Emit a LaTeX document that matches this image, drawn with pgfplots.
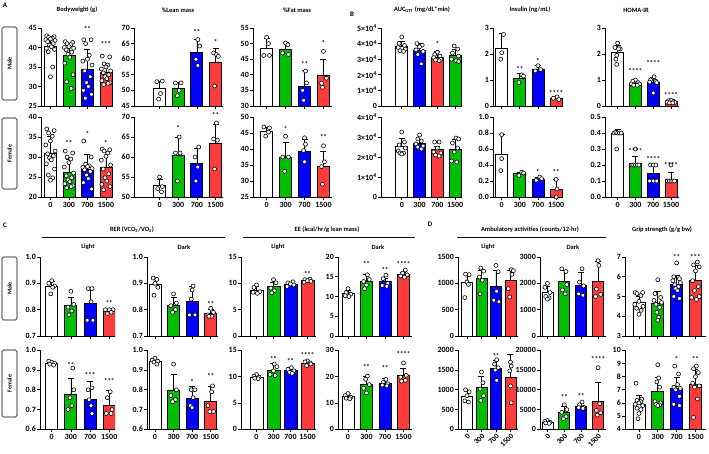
\documentclass[border=0pt]{standalone}
\usepackage{pgfplots}
\pgfplotsset{compat=1.18}
\usepackage{fontspec}
\setmainfont{Carlito}
\definecolor{cg}{RGB}{0,190,0}
\definecolor{cb}{RGB}{0,0,255}
\definecolor{cr}{RGB}{255,60,60}
\pgfplotsset{
  pr/.style={scale only axis, anchor=south west, axis lines*=left,
    axis line style={-, line width=0.8pt},
    tick style={black, line width=0.7pt}, tick align=outside, major tick length=3bp,
    xtick={0,1,2,3}, clip mode=individual, scaled ticks=false,
    ticklabel style={font=\bfseries\fontsize{8}{8}\selectfont},
    yticklabel style={inner sep=1pt}, xticklabel style={inner sep=2pt},
    bar width=12bp, /pgf/number format/assume math mode=true},
  male/.style={xticklabels={,,,}},
  female/.style={xticklabels={0,300,700,1500}},
  rot/.style={xticklabels={0,300,700,1500}, xticklabel style={rotate=45, anchor=north east, inner sep=0.5pt, font=\bfseries\fontsize{7.5}{7.5}\selectfont}},
  br/.style={ybar, draw=black, fill=#1, line width=0.8pt, error bars/.cd, y dir=plus, y explicit,
    error bar style={line width=0.7pt, black},
    error mark options={rotate=90, mark size=3bp, line width=0.7pt, black}},
  pts/.style={only marks, mark=*, mark size=2bp, mark options={fill=white, draw=black, line width=0.6pt}},
}
\newcommand{\bars}[8]{%
\addplot[br=white] coordinates {(0,#1) +- (0,#2)};
\addplot[br=cg] coordinates {(1,#3) +- (0,#4)};
\addplot[br=cb] coordinates {(2,#5) +- (0,#6)};
\addplot[br=cr] coordinates {(3,#7) +- (0,#8)};}
\newcommand{\barsB}[8]{%
\addplot[br=white] coordinates {(0,#1) +- (0,#2)};
\addplot[br=cb] coordinates {(1,#3) +- (0,#4)};
\addplot[br=cr] coordinates {(2,#5) +- (0,#6)};
\addplot[br=cg] coordinates {(3,#7) +- (0,#8)};}
\newcommand{\st}[3]{\node[font=\bfseries\fontsize{7}{7}\selectfont, inner sep=0] at (axis cs:#1,#2) {#3};}
\tikzset{ttl/.style={font=\bfseries\fontsize{6.5}{7}\selectfont, inner sep=0},
  lab/.style={font=\bfseries\fontsize{7}{7}\selectfont, inner sep=0},
  sexlab/.style={font=\bfseries\fontsize{6}{6}\selectfont, inner sep=0, rotate=90}}
\begin{document}
\begin{tikzpicture}
\path[use as bounding box] (0,0) rectangle (709bp,-454bp);
%================ A: Bodyweight male
\begin{axis}[pr, male, at={(41bp,-106bp)}, width=72bp, height=78bp, xmin=-0.51, xmax=3.38,
  ymin=25, ymax=45, ytick={25,30,35,40,45}, yticklabels={25,30,35,40,45}]
\bars{40.4}{2.5}{37.9}{2.6}{34.4}{5.0}{33.6}{2.2}
\addplot[pts] coordinates {(-.2,43)(.2,42.8)(-.1,42.6)(.1,42.4)(0,42.2)(-.25,42)(.25,41.8)(-.15,41.5)(.15,41)(-.05,40.6)(.05,40.2)(-.22,39.8)(.22,39.5)(-.12,38.9)(.12,35)(0,32.5)
(0.8,41.5)(1.2,41.3)(0.9,41)(1.1,40.7)(1,40.2)(0.75,40)(1.25,39.8)(0.85,39.4)(1.15,38.8)(0.95,38.3)(1.05,37.5)(0.78,36)(1.22,33)(0.88,31.2)(1.12,29.5)
(1.8,42)(2.2,42)(1.9,41)(2.1,38)(2,37)(1.75,36.5)(2.25,35.5)(1.85,34)(2.15,32.5)(1.95,31)(2.05,30)(1.78,29)(2.22,28)(1.88,27)
(2.8,37.8)(3.2,37.6)(2.9,35.8)(3.1,35.5)(3,35)(2.75,34.5)(3.25,34)(2.85,33.5)(3.15,33)(2.95,32.5)(3.05,32)(2.78,31.5)(3.22,31)(2.88,30.5)(3.12,30.8)};
\st{2}{44.8}{**}\st{3}{41.0}{***}
\end{axis}
%================ Lean male
\begin{axis}[pr, male, at={(134bp,-106bp)}, width=89bp, height=78bp, xmin=-1.37, xmax=3.4,
  ymin=45, ymax=70, ytick={45,50,55,60,65,70}, yticklabels={45,50,55,60,65,70}]
\bars{50.5}{2.5}{50.8}{1.8}{62.1}{4.3}{58.9}{4.6}
\addplot[pts] coordinates {(-.15,52.8)(.15,53)(.05,49)(-.05,47.2)(0.85,52.4)(1.15,52.4)(1.05,50)(0.95,48.3)(2.05,66.3)(2.15,64.2)(1.95,60)(2.05,58)(2.9,62)(3.05,61.5)(3.15,60.9)(2.95,51.4)};
\st{2}{68.8}{**}\st{3}{65.5}{*}
\end{axis}
%================ Fat male
\begin{axis}[pr, male, at={(253bp,-106bp)}, width=79bp, height=78bp, xmin=-0.72, xmax=3.45,
  ymin=30, ymax=55, ytick={30,35,40,45,50,55}, yticklabels={30,35,40,45,50,55}]
\bars{48.6}{3.0}{48.3}{2.2}{36.3}{5.0}{39.9}{5.0}
\addplot[pts] coordinates {(0,52)(.1,50)(-.15,46.2)(.15,46.2)(1,50.2)(1.12,49.6)(0.85,47)(1.15,46.5)(2.05,41.2)(2.1,37.4)(1.9,35)(1.95,31.8)(3,47.5)(3.15,38.9)(2.9,37.3)(2.95,36)};
\st{2}{43.5}{**}\st{3}{50.2}{*}
\end{axis}
%================ AUC male
\begin{axis}[pr, male, at={(381bp,-106bp)}, width=81bp, height=78bp, xmin=-1.17, xmax=3.39,
  ymin=0, ymax=5, ytick={0,1,2,3,4,5}, yticklabels={0,1×10\textsuperscript{4},2×10\textsuperscript{4},3×10\textsuperscript{4},4×10\textsuperscript{4},5×10\textsuperscript{4}}]
\barsB{3.82}{0.32}{3.54}{0.45}{3.13}{0.35}{3.26}{0.36}
\addplot[pts] coordinates {(0,4.42)(-.15,4.02)(.15,3.88)(-.2,3.75)(.2,3.65)(-.1,3.55)(.1,3.5)
(0.85,4)(1.15,3.9)(1,3.8)(0.8,3.6)(1.2,3.5)(0.9,3.3)(1.1,2.7)
(2,3.45)(1.85,3.3)(2.15,3.2)(1.8,3.1)(2.2,3.0)(1.9,2.95)(2.1,2.9)
(2.95,3.85)(3.15,3.65)(2.85,3.4)(3.2,3.2)(2.8,3.0)(3.05,2.9)(3.2,2.85)};
\st{2}{3.99}{*}
\end{axis}
%================ Insulin male
\begin{axis}[pr, male, at={(493bp,-106bp)}, width=70bp, height=78bp, xmin=-0.48, xmax=3.38,
  ymin=0, ymax=3, ytick={0,1,2,3}, yticklabels={0,1,2,3}]
\bars{2.2}{0.6}{1.08}{0.17}{1.42}{0.13}{0.29}{0.06}
\addplot[pts] coordinates {(0.1,2.75)(0,2.05)(-.05,1.8)(1.1,1.2)(1.2,1.15)(0.95,0.9)(2,1.55)(2.15,1.4)(1.85,1.35)(3.05,0.35)(2.85,0.3)(3.15,0.25)};
\st{1}{1.42}{**}\st{2}{1.74}{*}\st{3}{0.49}{****}
\end{axis}
%================ HOMA male
\begin{axis}[pr, male, at={(605bp,-106bp)}, width=74bp, height=78bp, xmin=-0.71, xmax=3.45,
  ymin=0, ymax=3, ytick={0,1,2,3}, yticklabels={0,1,2,3}]
\bars{2.06}{0.27}{0.88}{0.08}{0.9}{0.2}{0.17}{0.04}
\addplot[pts] coordinates {(0,2.42)(-.15,2.25)(.15,2.2)(.05,2.2)(-.05,1.95)(-.1,1.8)(-.05,1.6)
(1,1)(0.85,0.95)(1.15,0.9)(0.78,0.85)(1.22,0.85)(0.9,0.8)(1.1,0.8)
(2.05,1.12)(1.85,1.0)(2.15,0.95)(1.8,0.92)(2.2,0.9)(2,0.5)
(3,0.22)(2.85,0.2)(3.15,0.18)(2.78,0.15)(3.22,0.14)(2.92,0.12)(3.1,0.12)};
\st{1}{1.36}{****}\st{2}{1.67}{****}\st{3}{0.42}{****}
\end{axis}
%================ BW female
\begin{axis}[pr, female, at={(41bp,-197bp)}, width=72bp, height=80bp, xmin=-0.51, xmax=3.38,
  ymin=20, ymax=40, ytick={20,25,30,35,40}, yticklabels={20,25,30,35,40}]
\bars{30.8}{4.3}{26.2}{3.1}{27.0}{3.7}{27.3}{4.2}
\addplot[pts] coordinates {(-.2,37)(.2,36.6)(-.1,36)(.1,35.2)(0,34)(-.25,33)(.25,31.5)(-.15,30.8)(.15,30.3)(-.05,29.8)(.05,29.3)(-.22,28.3)(.22,27)(-.12,25.5)(.12,24.8)(0,24.2)
(0.8,31.5)(1.2,31)(0.9,30)(1.1,29.5)(1,28.6)(0.75,27.5)(1.25,26)(0.85,25.3)(1.15,24.8)(0.95,24.3)(1.05,23.8)(0.78,23.3)(1.22,22.8)(0.88,22.3)(1.12,22.6)
(1.8,34)(2.2,30)(1.9,28.2)(2.1,27.8)(2,27.6)(1.75,27.4)(2.25,27.1)(1.85,26.8)(2.15,26.4)(1.95,25.5)(2.05,24.6)(1.78,23.6)(2.22,22)
(2.8,32)(3.2,31.8)(2.9,31.5)(3.1,31)(3,30.2)(2.75,29.2)(3.25,28)(2.85,27)(3.15,25.8)(2.95,24.8)(3.05,24)(2.78,23.2)(3.22,22.6)(2.88,21.8)};
\st{1}{33.4}{**}\st{2}{35.8}{*}\st{3}{33.6}{*}
\end{axis}
%================ Lean female
\begin{axis}[pr, female, at={(134bp,-197bp)}, width=89bp, height=80bp, xmin=-1.37, xmax=3.4,
  ymin=50, ymax=70, ytick={50,55,60,65,70}, yticklabels={50,55,60,65,70}]
\bars{52.8}{1.6}{60.3}{4.6}{58.5}{3.6}{63.5}{4.6}
\addplot[pts] coordinates {(0,55)(.15,52.6)(-.1,52.1)(.1,51.3)(1.05,65)(0.85,61)(1.1,61)(0.95,54)(2.1,62.5)(1.9,60)(2.05,57.5)(1.95,54)(3.05,68.5)(2.9,64.5)(3.1,64.2)(2.95,57)};
\st{1}{67.2}{*}\st{3}{70.4}{**}
\end{axis}
%================ Fat female
\begin{axis}[pr, female, at={(253bp,-197bp)}, width=79bp, height=80bp, xmin=-0.72, xmax=3.45,
  ymin=25, ymax=50, ytick={25,30,35,40,45,50}, yticklabels={25,30,35,40,45,50}]
\bars{45.5}{1.4}{37.5}{4.6}{39.1}{3.9}{34.6}{4.8}
\addplot[pts] coordinates {(-.15,46.9)(.15,46.6)(.1,45.3)(-.05,44)(1,44)(0.85,37.5)(1.15,37.5)(0.95,33)(2,43.5)(2.05,41.5)(1.95,39.5)(2,36)(3,41)(3.05,36)(2.9,34.5)(2.95,29)};
\st{1}{46.4}{*}\st{3}{43.8}{**}
\end{axis}
%================ AUC female
\begin{axis}[pr, female, at={(381bp,-197bp)}, width=81bp, height=80bp, xmin=-1.17, xmax=3.39,
  ymin=0, ymax=4, ytick={0,1,2,3,4}, yticklabels={0,1×10\textsuperscript{4},2×10\textsuperscript{4},3×10\textsuperscript{4},4×10\textsuperscript{4}}]
\barsB{2.55}{0.39}{2.69}{0.2}{2.36}{0.17}{2.38}{0.5}
\addplot[pts] coordinates {(0,3.25)(.15,2.75)(-.15,2.6)(.2,2.45)(-.2,2.3)(.1,2.2)(-.1,2.2)(0,2.15)
(1,3.1)(0.9,2.9)(1.1,2.8)(0.8,2.65)(1.2,2.55)(0.9,2.5)(1.1,2.4)
(1.85,2.75)(2.1,2.75)(2,2.45)(1.8,2.25)(2.2,2.2)(1.9,2.1)(2.1,2.05)
(3.05,2.95)(3.2,2.9)(2.85,2.7)(3.15,2.45)(2.95,2.25)(2.8,1.8)(3.1,1.75)};
\end{axis}
%================ Insulin female
\begin{axis}[pr, female, at={(493bp,-197bp)}, width=70bp, height=80bp, xmin=-0.48, xmax=3.38,
  ymin=0, ymax=1, ytick={0,0.2,0.4,0.6,0.8,1}, yticklabels={0.0,0.2,0.4,0.6,0.8,1.0}]
\bars{0.53}{0.25}{0.29}{0.02}{0.22}{0.03}{0.1}{0.12}
\addplot[pts] coordinates {(0,0.78)(0,0.48)(-.05,0.33)(1.1,0.31)(1.2,0.3)(0.95,0.27)(2.1,0.25)(2.2,0.23)(1.9,0.21)(3,0.22)(3.05,0.1)(3,0.0)};
\st{2}{0.31}{*}\st{3}{0.31}{**}
\end{axis}
%================ HOMA female
\begin{axis}[pr, female, at={(605bp,-197bp)}, width=74bp, height=80bp, xmin=-0.71, xmax=3.45,
  ymin=0, ymax=0.5, ytick={0,0.1,0.2,0.3,0.4,0.5}, yticklabels={0.0,0.1,0.2,0.3,0.4,0.5}]
\bars{0.4}{0.025}{0.21}{0.045}{0.15}{0.055}{0.11}{0.045}
\addplot[pts] coordinates {(-.2,.4)(-.1,.405)(0,.4)(.1,.4)(.2,.4)(-.05,.3)
(1,0.3)(0.8,0.2)(0.9,0.2)(1,0.2)(1.1,0.2)(1.2,0.2)
(1.85,0.2)(2,0.2)(2.15,0.2)(1.8,0.1)(2,0.1)(2.2,0.1)
(3,.2)(2.8,.1)(2.9,.1)(3,.1)(3.1,.1)(3.2,.1)};
\st{1}{0.285}{****}\st{2}{0.24}{****}\st{3}{0.2}{****}
\end{axis}
%================ C: RER light male
\begin{axis}[pr, male, at={(40bp,-336bp)}, width=75bp, height=79bp, xmin=-0.61, xmax=3.3,
  ymin=0.7, ymax=1.0, ytick={0.7,0.8,0.9,1.0}, yticklabels={0.7,0.8,0.9,1.0}]
\bars{0.888}{0.02}{0.815}{0.032}{0.822}{0.058}{0.793}{0.008}
\addplot[pts] coordinates {(0,.91)(-.15,.9)(.15,.89)(.05,.885)(-.05,.86)(1,.87)(1.15,.82)(0.85,.81)(1.05,.795)(0.9,.78)(1.9,.88)(2.1,.88)(2.05,.83)(1.85,.76)(2.15,.76)(2.8,.8)(3,.8)(3.2,.8)(3.1,.79)(2.9,.785)};
\st{3}{0.825}{**}
\end{axis}
%================ RER dark male
\begin{axis}[pr, male, at={(147bp,-336bp)}, width=71bp, height=79bp, xmin=-0.43, xmax=3.39,
  ymin=0.7, ymax=1.0, ytick={0.7,0.8,0.9,1.0}, yticklabels={0.7,0.8,0.9,1.0}]
\bars{0.895}{0.028}{0.818}{0.027}{0.833}{0.055}{0.785}{0.016}
\addplot[pts] coordinates {(-.1,.92)(.1,.915)(0,.9)(.15,.885)(-.05,.855)(1,.86)(1.15,.825)(0.85,.815)(1.1,.8)(0.95,.79)(2.05,.89)(2,.875)(1.95,.84)(1.85,.78)(2.15,.78)(3,.805)(3.15,.79)(2.85,.78)(3.05,.775)(2.9,.775)};
\st{3}{0.82}{**}
\end{axis}
%================ EE light male
\begin{axis}[pr, male, at={(241bp,-336bp)}, width=75bp, height=79bp, xmin=-0.91, xmax=3.5,
  ymin=0, ymax=15, ytick={0,5,10,15}, yticklabels={0,5,10,15}, bar width=13bp]
\bars{8.74}{0.6}{9.34}{0.9}{9.88}{0.35}{10.52}{0.22}
\addplot[pts] coordinates {(0,9.7)(-.15,9.2)(.2,8.4)(-.2,8.3)(.05,8.1)(1,10.7)(1.15,10.1)(0.85,9.1)(1.05,8.6)(0.9,8.2)(2.15,10.3)(1.85,10.1)(2,9.9)(2.2,9.7)(1.8,9.4)(3.15,10.8)(2.85,10.7)(3,10.5)(3.2,10.4)(2.8,10.2)};
\st{3}{11.7}{**}
\end{axis}
%================ EE dark male
\begin{axis}[pr, male, at={(338bp,-336bp)}, width=74bp, height=79bp, xmin=-0.54, xmax=3.46,
  ymin=0, ymax=20, ytick={0,5,10,15,20}, yticklabels={0,5,10,15,20}]
\bars{10.76}{0.8}{13.7}{1.8}{13.72}{0.9}{15.64}{0.6}
\addplot[pts] coordinates {(0,12)(-.1,11)(.15,10.6)(-.15,10.2)(.05,10)(1.05,15.5)(1.15,14.3)(0.85,13.8)(1,12.9)(0.9,12)(2.05,15.4)(1.9,14.5)(2.15,13.3)(1.85,12.8)(2.1,12.6)(3.1,16.7)(2.95,15.9)(3.2,15.5)(2.85,15.2)(3.05,14.9)};
\st{1}{18.3}{**}\st{2}{16.6}{**}\st{3}{18.3}{****}
\end{axis}
%================ D: Amb light male
\begin{axis}[pr, male, at={(458bp,-336bp)}, width=60bp, height=79bp, xmin=-0.62, xmax=3.52,
  ymin=0, ymax=1500, ytick={0,500,1000,1500}, yticklabels={0,500,1000,1500}, bar width=11bp]
\bars{1015}{180}{1100}{150}{948}{290}{1062}{190}
\addplot[pts] coordinates {(-.1,1175)(.15,1165)(0,1025)(.1,980)(-.15,730)(0.95,1290)(1.15,1230)(0.85,1120)(1.05,1060)(0.9,800)(2,1340)(2.15,1220)(2.05,850)(1.85,680)(2.2,650)(3.05,1260)(3.2,1240)(3.1,1170)(2.85,900)(2.95,740)};
\end{axis}
%================ Amb dark male
\begin{axis}[pr, male, at={(540bp,-336bp)}, width=66bp, height=79bp, xmin=-0.44, xmax=3.47,
  ymin=0, ymax=3000, ytick={0,1000,2000,3000}, yticklabels={0,1000,2000,3000}, bar width=11bp]
\bars{1640}{230}{2060}{420}{1930}{470}{2080}{740}
\addplot[pts] coordinates {(0,2000)(-.15,1850)(.15,1650)(-.1,1500)(.1,1450)(0,1400)(0.85,2550)(1.1,2450)(1.15,1950)(0.9,1750)(1.05,1600)(2.05,2550)(1.9,2050)(2.15,1900)(1.85,1600)(2.1,1550)(3,2860)(3.05,2680)(2.9,1780)(3.15,1580)(2.85,1500)};
\end{axis}
%================ Grip male
\begin{axis}[pr, male, at={(625bp,-336bp)}, width=81bp, height=79bp, xmin=-0.74, xmax=3.56,
  ymin=3, ymax=7, ytick={3,4,5,6,7}, yticklabels={3,4,5,6,7}]
\bars{4.7}{0.33}{4.65}{0.6}{5.62}{0.46}{5.8}{0.76}
\addplot[pts] coordinates {(-.2,5.2)(.2,5.2)(-.1,5.15)(.1,5.05)(0,4.75)(-.22,4.6)(.22,4.5)(-.12,4.4)(.12,4.3)(0,4.1)
(1,5.85)(0.85,5.15)(1.15,4.95)(0.8,4.8)(1.2,4.7)(0.9,4.6)(1.1,4.45)(0.95,4.2)(1.05,3.95)(1,3.8)
(2,6.7)(1.85,6.0)(2.15,5.9)(1.8,5.8)(2.2,5.7)(1.9,5.6)(2.1,5.5)(1.95,5.4)(2.05,5.3)(1.85,5.0)(2.15,4.9)
(3.1,6.75)(2.9,6.6)(3.2,6.5)(3,6.3)(2.85,5.8)(3.15,5.5)(2.95,5.3)(3.2,5.0)(2.8,4.95)(3.05,4.85)};
\st{2}{7.0}{**}\st{3}{7.0}{***}
\end{axis}
%================ RER light female
\begin{axis}[pr, female, at={(40bp,-429.3bp)}, width=75bp, height=79bp, xmin=-0.61, xmax=3.3,
  ymin=0.6, ymax=1.0, ytick={0.6,0.7,0.8,0.9,1.0}, yticklabels={0.6,0.7,0.8,0.9,1.0}]
\bars{0.935}{0.01}{0.778}{0.08}{0.752}{0.09}{0.722}{0.077}
\addplot[pts] coordinates {(-.15,.945)(0,.94)(.15,.935)(-.1,.93)(.1,.925)(1.1,.91)(1.15,.80)(0.95,.76)(1.05,.72)(0.85,.70)(2.1,.81)(1.9,.80)(1.95,.75)(2.05,.72)(2.1,.68)(3.05,.79)(2.9,.76)(3.15,.70)(2.85,.68)(3.1,.68)};
\st{1}{0.927}{**}\st{2}{0.876}{***}\st{3}{0.847}{***}
\end{axis}
%================ RER dark female
\begin{axis}[pr, female, at={(147bp,-429.3bp)}, width=71bp, height=79bp, xmin=-0.43, xmax=3.39,
  ymin=0.6, ymax=1.0, ytick={0.6,0.7,0.8,0.9,1.0}, yticklabels={0.6,0.7,0.8,0.9,1.0}]
\bars{0.944}{0.01}{0.798}{0.078}{0.758}{0.058}{0.742}{0.075}
\addplot[pts] coordinates {(0,.96)(-.15,.95)(.15,.945)(-.05,.94)(.1,.93)(1,.93)(1.15,.80)(0.85,.77)(1.1,.75)(0.95,.74)(1.95,.80)(2.15,.80)(2.05,.76)(1.9,.72)(2,.71)(3.1,.82)(3.05,.79)(2.85,.72)(3.15,.69)(2.95,.69)};
\st{2}{0.837}{*}\st{3}{0.868}{**}
\end{axis}
%================ EE light female
\begin{axis}[pr, female, at={(241bp,-429.3bp)}, width=75bp, height=79bp, xmin=-0.91, xmax=3.5,
  ymin=0, ymax=15, ytick={0,5,10,15}, yticklabels={0,5,10,15}, bar width=13bp]
\bars{9.94}{0.5}{11.2}{1.3}{11.12}{0.6}{12.58}{0.4}
\addplot[pts] coordinates {(0,10.4)(-.15,10.1)(.15,9.9)(-.1,9.7)(.1,9.6)(1.05,12.4)(1.2,11.9)(1,11.1)(0.8,10.4)(1.1,10.2)(2.05,11.7)(1.85,11.4)(2.2,11.1)(1.95,10.8)(2.1,10.6)(3,13.0)(2.85,12.8)(3.15,12.6)(3.2,12.4)(2.95,12.1)};
\st{1}{13.4}{**}\st{2}{12.9}{**}\st{3}{14.2}{****}
\end{axis}
%================ EE dark female
\begin{axis}[pr, female, at={(338bp,-429.3bp)}, width=74bp, height=79bp, xmin=-0.54, xmax=3.46,
  ymin=0, ymax=30, ytick={0,10,20,30}, yticklabels={0,10,20,30}]
\bars{12.4}{1.2}{17.1}{3.1}{17.5}{1.8}{20.5}{2.8}
\addplot[pts] coordinates {(0,13.6)(-.15,12.8)(.15,12.2)(-.1,11.8)(.1,11.6)(1.05,20.2)(0.95,19.0)(1.15,17.0)(0.85,15.6)(1,13.8)(2.05,19.0)(1.9,17.8)(2.15,17.3)(1.85,16.8)(2.1,16.5)(3,25.2)(3.15,20.5)(2.85,19.8)(3.1,18.6)(2.9,18.3)};
\st{1}{23.7}{**}\st{2}{23.1}{**}\st{3}{28.5}{****}
\end{axis}
%================ Amb light female
\begin{axis}[pr, rot, at={(458bp,-429.3bp)}, width=60bp, height=79bp, xmin=-0.62, xmax=3.52,
  ymin=0, ymax=2000, ytick={0,500,1000,1500,2000}, yticklabels={0,500,1000,1500,2000}, bar width=11bp]
\bars{842}{130}{1060}{280}{1542}{200}{1310}{600}
\addplot[pts] coordinates {(-.1,1000)(.15,950)(0,850)(-.15,720)(.1,690)(1,1450)(1.1,1180)(0.9,1020)(1.15,850)(0.95,730)(2.05,1760)(1.9,1650)(2.15,1560)(1.95,1500)(2.05,1240)(3,1700)(3.05,1600)(2.95,1480)(3,1100)(3.05,670)};
\st{2}{1850}{**}
\end{axis}
%================ Amb dark female
\begin{axis}[pr, rot, at={(540bp,-429.3bp)}, width=66bp, height=79bp, xmin=-0.44, xmax=3.47,
  ymin=0, ymax=20000, ytick={0,5000,10000,15000,20000}, yticklabels={0,5000,10000,15000,20000}, bar width=11bp]
\bars{1820}{300}{4280}{1600}{5900}{700}{6940}{5000}
\addplot[pts] coordinates {(0,2200)(-.15,2000)(.15,1800)(-.1,1600)(.1,1500)(1,6200)(1.15,5000)(0.85,4300)(1.1,3200)(0.95,2700)(2.05,6900)(1.9,6200)(2.15,5600)(1.85,5500)(2.1,5300)(3,15600)(3.1,6500)(2.9,4800)(3.15,4200)(2.95,3600)};
\st{1}{8200}{**}\st{2}{8500}{**}\st{3}{17900}{****}
\end{axis}
%================ Grip female
\begin{axis}[pr, female, at={(625bp,-429.3bp)}, width=81bp, height=79bp, xmin=-0.74, xmax=3.56,
  ymin=4, ymax=10, ytick={4,5,6,7,8,9,10}, yticklabels={4,5,6,7,8,9,10}]
\bars{5.88}{0.7}{6.9}{1.05}{7.08}{0.9}{7.4}{1.15}
\addplot[pts] coordinates {(-.15,7.5)(.15,6.3)(-.1,6.2)(.1,6.1)(0,6.0)(-.2,5.9)(.2,5.8)(-.1,5.6)(.1,5.5)(0,5.2)(-.05,4.8)
(1,8.9)(1.05,7.9)(0.95,7.6)(1.1,7.2)(0.85,6.1)(1.15,6.0)(0.9,5.9)(1.1,5.85)(1,5.8)
(1.9,8.8)(2.1,8.2)(2.05,7.4)(1.85,7.2)(2.2,7.1)(1.95,7.0)(2.15,6.5)(1.85,5.9)(2.15,5.8)
(3.05,8.8)(2.9,8.6)(3.15,8.3)(3,8.0)(2.85,7.5)(3.2,7.3)(2.95,7.2)(3.1,6.3)(2.9,4.9)};
\st{2}{9.35}{*}\st{3}{9.35}{**}
\end{axis}
%================ Texts
\node[lab] at (5bp,-5bp) {A};
\node[lab] at (352bp,-14bp) {B};
\node[lab] at (5bp,-225bp) {C};
\node[lab] at (430bp,-224bp) {D};
\node[ttl] at (77bp,-10bp) {Bodyweight (g)};
\node[ttl] at (178bp,-10bp) {\%Lean mass};
\node[ttl] at (297bp,-10bp) {\%Fat mass};
\node[ttl] at (422bp,-10bp) {AUC\textsubscript{GTT} (mg/dL*min)};
\node[ttl] at (530bp,-10bp) {Insulin (ng/mL)};
\node[ttl] at (636bp,-10bp) {HOMA-IR};
\node[ttl] at (132bp,-230bp) {RER (VCO\textsubscript{2}/VO\textsubscript{2})};
\draw[line width=0.6pt] (42bp,-237bp) -- (225bp,-237bp);
\node[ttl] at (88bp,-247bp) {Light};
\node[ttl] at (184bp,-247bp) {Dark};
\node[ttl] at (327bp,-230bp) {EE (kcal/hr/g lean mass)};
\draw[line width=0.6pt] (243bp,-237bp) -- (415bp,-237bp);
\node[ttl] at (278bp,-247bp) {Light};
\node[ttl] at (378bp,-247bp) {Dark};
\node[ttl] at (530bp,-230bp) {Ambulatory activities (counts/12-hr)};
\draw[line width=0.6pt] (457bp,-237bp) -- (606bp,-237bp);
\node[ttl] at (488bp,-247bp) {Light};
\node[ttl] at (573bp,-247bp) {Dark};
\node[ttl] at (662bp,-230bp) {Grip strength (g/g bw)};
% sex boxes
\draw[line width=0.6pt, rounded corners=1.5bp] (2bp,-27bp) rectangle (17bp,-100bp);
\node[sexlab] at (9.5bp,-63.5bp) {Male};
\draw[line width=0.6pt, rounded corners=1.5bp] (2bp,-118bp) rectangle (17bp,-189bp);
\node[sexlab] at (9.5bp,-153.5bp) {Female};
\draw[line width=0.6pt, rounded corners=1.5bp] (2bp,-257bp) rectangle (17bp,-320bp);
\node[sexlab] at (9.5bp,-288.5bp) {Male};
\draw[line width=0.6pt, rounded corners=1.5bp] (2bp,-350bp) rectangle (17bp,-417bp);
\node[sexlab] at (9.5bp,-383.5bp) {Female};
\end{tikzpicture}
\end{document}
